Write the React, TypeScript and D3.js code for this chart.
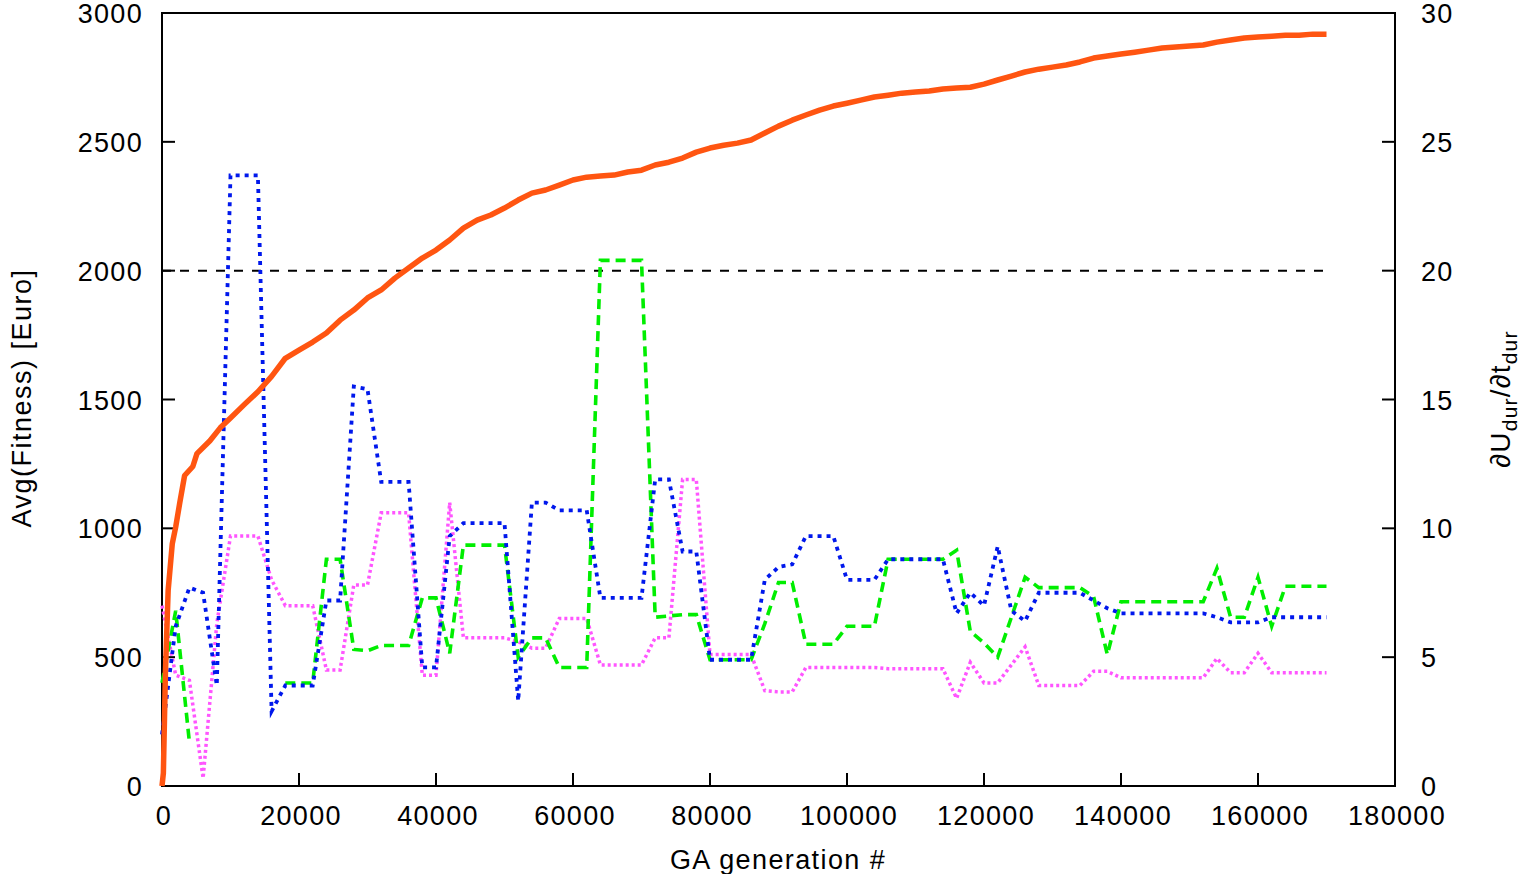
import { useEffect, useRef } from "react";
import * as d3 from "d3";

// generation grid of the three ratio series (sampled every 2000 generations)
const gens = d3.range(0, 170001, 2000);

// dU_dur/dt_dur ratios, right axis
const blueVals = [
  2.0, 6.2, 7.7, 7.5, 3.9, 23.7, 23.7, 23.7, 2.9, 3.9,
  3.9, 3.9, 7.2, 7.2, 15.5, 15.4, 11.8, 11.8, 11.8, 4.6,
  4.6, 9.7, 10.2, 10.2, 10.2, 10.2, 3.3, 11.0, 11.0, 10.7,
  10.7, 10.7, 7.3, 7.3, 7.3, 7.3, 11.9, 11.9, 9.1, 9.1,
  4.9, 4.9, 4.9, 4.9, 8.0, 8.5, 8.6, 9.7, 9.7, 9.7,
  8.0, 8.0, 8.0, 8.8, 8.8, 8.8, 8.8, 8.8, 6.7, 7.5,
  7.0, 9.3, 6.8, 6.4, 7.5, 7.5, 7.5, 7.5, 7.2, 6.9,
  6.7, 6.7, 6.7, 6.7, 6.7, 6.7, 6.7, 6.55, 6.35, 6.35,
  6.35, 6.55, 6.55, 6.55, 6.55, 6.55,
];

const greenVals: (number | null)[] = [
  4.0, 6.8, 1.7, null, null, null, null, null, null, 4.0,
  4.0, 4.0, 8.8, 8.8, 5.3, 5.25, 5.45, 5.45, 5.45, 7.3,
  7.3, 5.15, 9.35, 9.35, 9.35, 9.35, 5.0, 5.75, 5.75, 4.6,
  4.6, 4.6, 20.4, 20.4, 20.4, 20.4, 6.55, 6.6, 6.65, 6.65,
  4.9, 4.9, 4.9, 4.9, 6.3, 7.9, 7.9, 5.5, 5.5, 5.5,
  6.2, 6.2, 6.2, 8.8, 8.8, 8.8, 8.8, 8.8, 9.15, 6.0,
  5.55, 5.0, 6.55, 8.1, 7.7, 7.7, 7.7, 7.7, 7.35, 5.1,
  7.15, 7.15, 7.15, 7.15, 7.15, 7.15, 7.15, 8.45, 6.55, 6.55,
  8.1, 6.2, 7.75, 7.75, 7.75, 7.75,
];

const magentaVals = [
  7.0, 4.3, 4.1, 0.3, 6.3, 9.7, 9.7, 9.7, 8.0, 7.0,
  7.0, 7.0, 4.5, 4.5, 7.8, 7.8, 10.6, 10.6, 10.6, 4.3,
  4.3, 11.0, 5.75, 5.75, 5.75, 5.75, 5.6, 5.35, 5.35, 6.5,
  6.5, 6.5, 4.7, 4.7, 4.7, 4.7, 5.75, 5.75, 11.9, 11.9,
  5.1, 5.1, 5.1, 5.1, 3.7, 3.65, 3.65, 4.6, 4.6, 4.6,
  4.6, 4.6, 4.6, 4.55, 4.55, 4.55, 4.55, 4.55, 3.4, 4.8,
  4.0, 4.0, 4.7, 5.4, 3.9, 3.9, 3.9, 3.9, 4.45, 4.45,
  4.2, 4.2, 4.2, 4.2, 4.2, 4.2, 4.2, 4.95, 4.4, 4.4,
  5.15, 4.4, 4.4, 4.4, 4.4, 4.4,
];

// average fitness, left axis
const fitGens = [
  0, 200, 500, 900, 1500, 2000, 2600, 3300, 4500, 5100,
  7000, 8500, 10000, 12000, 14000, 16000, 18000, 20000, 22000, 24000,
  26000, 28000, 30000, 32000, 34000, 36000, 38000, 40000, 42000, 44000,
  46000, 48000, 50000, 52000, 54000, 56000, 58000, 60000, 62000, 64000,
  66000, 68000, 70000, 72000, 74000, 76000, 78000, 80000, 82000, 84000,
  86000, 88000, 90000, 92000, 94000, 96000, 98000, 100000, 102000, 104000,
  106000, 108000, 110000, 112000, 114000, 116000, 118000, 120000, 122000, 124000,
  126000, 128000, 130000, 132000, 134000, 136000, 138000, 140000, 142000, 144000,
  146000, 148000, 150000, 152000, 154000, 156000, 158000, 160000, 162000, 164000,
  166000, 168000, 170000,
];
const fitVals = [
  0, 50, 440, 760, 940, 1005, 1100, 1205, 1240, 1290,
  1340, 1390, 1428, 1480, 1530, 1590, 1660, 1692, 1723, 1758,
  1808, 1847, 1894, 1925, 1971, 2010, 2049, 2080, 2119, 2165,
  2196, 2216, 2243, 2274, 2301, 2313, 2332, 2352, 2363, 2367,
  2371, 2383, 2390, 2410, 2421, 2437, 2460, 2476, 2487, 2495,
  2507, 2534, 2561, 2584, 2604, 2623, 2639, 2650, 2662, 2674,
  2681, 2689, 2693, 2697, 2705, 2709, 2712, 2724, 2740, 2755,
  2771, 2782, 2790, 2798, 2810, 2825, 2833, 2841, 2848, 2856,
  2864, 2868, 2872, 2876, 2887, 2895, 2903, 2907, 2910, 2914,
  2914, 2918, 2918,
];

const xTicks = [0, 20000, 40000, 60000, 80000, 100000, 120000, 140000, 160000, 180000];
const yTicks = [0, 500, 1000, 1500, 2000, 2500, 3000];
const y2Ticks = [0, 5, 10, 15, 20, 25, 30];
const refLevel = 20;

const W = 1528;
const H = 874;
const M = { left: 162, right: 133, top: 13, bottom: 88 };

export default function App() {
  const svgRef = useRef<SVGSVGElement>(null);

  useEffect(() => {
    const svg = d3.select(svgRef.current);
    svg.selectAll("*").remove();

    const x = d3.scaleLinear().domain([0, 180000]).range([M.left, W - M.right]);
    const y = d3.scaleLinear().domain([0, 3000]).range([H - M.bottom, M.top]);
    const y2 = d3.scaleLinear().domain([0, 30]).range([H - M.bottom, M.top]);

    const font = "'Liberation Sans', Arial, Helvetica, sans-serif";
    const fs = 27;

    // frame
    svg.append("rect")
      .attr("x", M.left).attr("y", M.top)
      .attr("width", W - M.right - M.left).attr("height", H - M.bottom - M.top)
      .attr("fill", "none").attr("stroke", "#000").attr("stroke-width", 2);

    // x ticks
    const gx = svg.append("g");
    xTicks.forEach((t) => {
      gx.append("line")
        .attr("x1", x(t)).attr("x2", x(t))
        .attr("y1", H - M.bottom).attr("y2", H - M.bottom - 13)
        .attr("stroke", "#000").attr("stroke-width", 2);
      gx.append("text")
        .attr("x", x(t) + 2).attr("y", 825)
        .attr("text-anchor", "middle")
        .attr("font-family", font).attr("font-size", fs)
        .attr("letter-spacing", 1.3)
        .text(String(t));
    });

    // left ticks
    yTicks.forEach((t) => {
      svg.append("line")
        .attr("x1", M.left).attr("x2", M.left + 13)
        .attr("y1", y(t)).attr("y2", y(t))
        .attr("stroke", "#000").attr("stroke-width", 2);
      svg.append("text")
        .attr("x", 143).attr("y", y(t) + 10)
        .attr("text-anchor", "end")
        .attr("font-family", font).attr("font-size", fs)
        .attr("letter-spacing", 1.3)
        .text(String(t));
    });

    // right ticks
    y2Ticks.forEach((t) => {
      svg.append("line")
        .attr("x1", W - M.right).attr("x2", W - M.right - 13)
        .attr("y1", y2(t)).attr("y2", y2(t))
        .attr("stroke", "#000").attr("stroke-width", 2);
      svg.append("text")
        .attr("x", 1421).attr("y", y2(t) + 10)
        .attr("text-anchor", "start")
        .attr("font-family", font).attr("font-size", fs)
        .attr("letter-spacing", 1.3)
        .text(String(t));
    });

    // axis titles
    svg.append("text")
      .attr("x", 778).attr("y", 869)
      .attr("text-anchor", "middle")
      .attr("font-family", font).attr("font-size", fs)
      .attr("letter-spacing", 1.4)
      .text("GA generation #");

    svg.append("text")
      .attr("transform", "translate(31,398) rotate(-90)")
      .attr("text-anchor", "middle")
      .attr("font-family", font).attr("font-size", fs)
      .attr("letter-spacing", 1.5)
      .text("Avg(Fitness) [Euro]");

    const r = svg.append("text")
      .attr("transform", "translate(1510,399) rotate(-90)")
      .attr("text-anchor", "middle")
      .attr("font-family", font).attr("font-size", 28)
      .attr("letter-spacing", 1.2);
    r.append("tspan").text("∂U");
    r.append("tspan").attr("font-size", 21).attr("dy", 7).text("dur");
    r.append("tspan").attr("dy", -7).text("/∂t");
    r.append("tspan").attr("font-size", 21).attr("dy", 7).text("dur");

    // reference line
    svg.append("line")
      .attr("x1", x(0)).attr("x2", x(170000))
      .attr("y1", y2(refLevel)).attr("y2", y2(refLevel))
      .attr("stroke", "#000").attr("stroke-width", 2)
      .attr("stroke-dasharray", "9,9");

    const line2 = d3.line<number>()
      .defined((d) => d !== null)
      .x((_, i) => x(gens[i]))
      .y((d) => y2(d as number));

    const series = [
      { vals: magentaVals, color: "#ff55ff", dash: "3,3", w: 3.5 },
      { vals: greenVals, color: "#00ee00", dash: "10,6", w: 3.6 },
      { vals: blueVals, color: "#0018ec", dash: "4,5", w: 3.8 },
    ];
    series.forEach((s) => {
      svg.append("path")
        .attr("d", line2(s.vals as number[]))
        .attr("fill", "none")
        .attr("stroke", s.color)
        .attr("stroke-width", s.w)
        .attr("stroke-dasharray", s.dash);
    });

    const fitLine = d3.line<number>()
      .x((_, i) => x(fitGens[i]))
      .y((d) => y(d));
    svg.append("path")
      .attr("d", fitLine(fitVals))
      .attr("fill", "none")
      .attr("stroke", "#ff5511")
      .attr("stroke-width", 5.5)
      .attr("stroke-linejoin", "round");
  }, []);

  return (
    <svg
      ref={svgRef}
      width={W}
      height={H}
      style={{ position: "absolute", left: 0, top: 0, background: "#fff" }}
    ></svg>
  );
}
